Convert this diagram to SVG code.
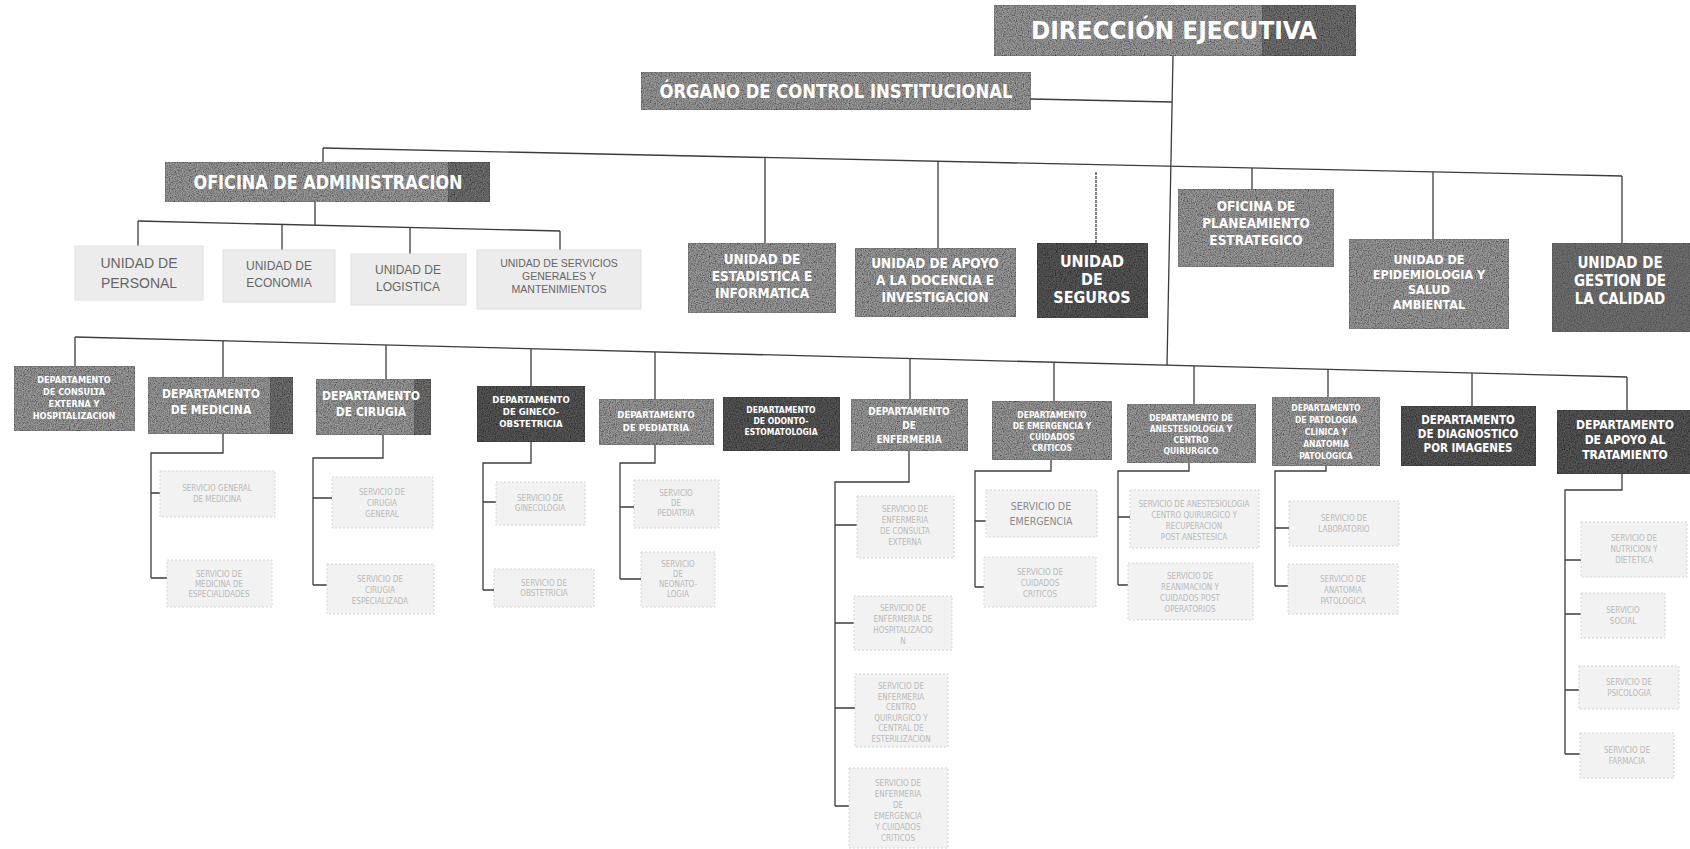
<svg xmlns="http://www.w3.org/2000/svg" width="1690" height="849" viewBox="0 0 1690 849">
<defs>
<filter id="grain" x="0" y="0" width="100%" height="100%">
<feTurbulence type="fractalNoise" baseFrequency="0.85" numOctaves="2" seed="4" result="n"/>
<feColorMatrix in="n" type="matrix" values="0 0 0 0 0  0 0 0 0 0  0 0 0 0 0  0 0 0 -1.6 1.05" result="dk"/>
<feComposite in="dk" in2="SourceGraphic" operator="in" result="d2"/>
<feMerge><feMergeNode in="SourceGraphic"/><feMergeNode in="d2"/></feMerge>
</filter>
<style>
.m{fill:#9a9a9a;stroke:#7a7a7a;stroke-width:1;filter:url(#grain)}
.d{fill:#565656;stroke:#444;stroke-width:1;filter:url(#grain)}
.l{fill:#ececec;stroke:#e0e0e0;stroke-width:1}
.f{fill:#f2f2f2;stroke:#d4d4d4;stroke-width:1;stroke-dasharray:2 2}
.tw{fill:#fff;font-family:"Liberation Sans Narrow","DejaVu Sans Condensed","Liberation Sans",sans-serif;font-weight:bold;text-anchor:middle}
.tg{fill:#666;font-family:"Liberation Sans","DejaVu Sans",sans-serif;text-anchor:middle}
.tf{fill:#b9b9b9;font-family:"Liberation Sans Narrow","DejaVu Sans Condensed","Liberation Sans",sans-serif;font-size:8px;text-anchor:middle}
.c{fill:none;stroke:#3c3c3c;stroke-width:1.3}
</style>
</defs>
<rect width="1690" height="849" fill="#fff"/>

<g id="connectors">
<path class="c" d="M1173,56 L1167,365"/>
<path class="c" d="M1031,99 L1172,102"/>
<path class="c" d="M323,148 L1622,176"/>
<path class="c" d="M323,148 V162"/>
<path class="c" d="M765,157.5 V243"/>
<path class="c" d="M938,161 V248"/>
<path class="c" d="M1096,172 V243" stroke-dasharray="3 1"/>
<path class="c" d="M1252,168 V189"/>
<path class="c" d="M1433,172 V239"/>
<path class="c" d="M1622,176 V243"/>
<path class="c" d="M315,202 V225"/>
<path class="c" d="M138,221 L560,231"/>
<path class="c" d="M138,221 V246"/>
<path class="c" d="M282,224.4 V250"/>
<path class="c" d="M410,227.4 V254"/>
<path class="c" d="M560,231 V250"/>
<path class="c" d="M75,337 L1627,377"/>
<path class="c" d="M75,337 V366"/>
<path class="c" d="M223,341 V377"/>
<path class="c" d="M386,345 V379"/>
<path class="c" d="M531,349 V386"/>
<path class="c" d="M655,352 V399"/>
<path class="c" d="M910,358.5 V399"/>
<path class="c" d="M1054,362 V401"/>
<path class="c" d="M1194,366 V404"/>
<path class="c" d="M1328,369 V397"/>
<path class="c" d="M1472,373 V406"/>
<path class="c" d="M1627,377 V410"/>
<path class="c" d="M223,434 V453 H151 V578 M151,493 H160 M151,578 H167"/>
<path class="c" d="M383,435 V458 H313 V585 M313,498 H332 M313,585 H327"/>
<path class="c" d="M531,442 V463 H483 V590 M483,502 H496 M483,590 H494"/>
<path class="c" d="M655,445 V463 H620 V579 M620,507 H634 M620,579 H641"/>
<path class="c" d="M909,451 V482 H835 V806 M835,525 H857 M835,623 H854 M835,708 H855 M835,806 H849"/>
<path class="c" d="M1051,460 V471 H975 V587 M975,521 H986 M975,587 H984"/>
<path class="c" d="M1189,463 V471 H1118 V585 M1118,517 H1130 M1118,585 H1128"/>
<path class="c" d="M1326,466 V471 H1275 V586 M1275,528 H1289 M1275,586 H1288"/>
<path class="c" d="M1622,474 V490 H1565 V754 M1565,560 H1581 M1565,614 H1581 M1565,690 H1579 M1565,754 H1580"/>
</g>

<g id="direccion-ejecutiva">
<rect class="m" x="994" y="5" width="362" height="51"/>
<rect class="d" x="1262" y="5" width="94" height="51" opacity="0.6"/>
<text class="tw" x="1174" y="39" font-size="25" textLength="286" lengthAdjust="spacingAndGlyphs">DIRECCIÓN EJECUTIVA</text>
</g>
<g id="organo-control">
<rect class="m" x="641" y="72" width="390" height="38"/>
<text class="tw" x="836" y="98" font-size="19" textLength="353" lengthAdjust="spacingAndGlyphs">ÓRGANO DE CONTROL INSTITUCIONAL</text>
</g>
<g id="oficina-administracion">
<rect class="m" x="165" y="162" width="325" height="40"/>
<rect class="d" x="448" y="162" width="42" height="40" opacity="0.6"/>
<text class="tw" x="328" y="189" font-size="19" textLength="269" lengthAdjust="spacingAndGlyphs">OFICINA DE ADMINISTRACION</text>
</g>

<g id="unidad-personal"><rect class="l" x="75" y="246" width="128" height="54"/>
<text class="tg" font-size="14" x="139"><tspan x="139" y="268">UNIDAD DE</tspan><tspan x="139" y="288">PERSONAL</tspan></text></g>
<g id="unidad-economia"><rect class="l" x="223" y="250" width="112" height="52"/>
<text class="tg" font-size="12" x="279"><tspan x="279" y="270">UNIDAD DE</tspan><tspan x="279" y="287">ECONOMIA</tspan></text></g>
<g id="unidad-logistica"><rect class="l" x="351" y="254" width="115" height="51"/>
<text class="tg" font-size="12" x="408"><tspan x="408" y="274">UNIDAD DE</tspan><tspan x="408" y="291">LOGISTICA</tspan></text></g>
<g id="unidad-servicios-generales"><rect class="l" x="477" y="250" width="164" height="59"/>
<text class="tg" font-size="10.5" x="559"><tspan x="559" y="267">UNIDAD DE SERVICIOS</tspan><tspan x="559" y="280">GENERALES Y</tspan><tspan x="559" y="293">MANTENIMIENTOS</tspan></text></g>

<g id="unidad-estadistica"><rect class="m" x="688" y="243" width="148" height="70"/>
<text class="tw" font-size="13.5"><tspan x="762" y="264">UNIDAD DE</tspan><tspan x="762" y="281">ESTADISTICA E</tspan><tspan x="762" y="298">INFORMATICA</tspan></text></g>
<g id="unidad-apoyo-docencia"><rect class="m" x="855" y="248" width="161" height="69"/>
<text class="tw" font-size="13.5"><tspan x="935" y="268">UNIDAD DE APOYO</tspan><tspan x="935" y="285">A LA DOCENCIA E</tspan><tspan x="935" y="302">INVESTIGACION</tspan></text></g>
<g id="unidad-seguros"><rect class="d" x="1037" y="243" width="111" height="75"/>
<text class="tw" font-size="16"><tspan x="1092" y="267">UNIDAD</tspan><tspan x="1092" y="285">DE</tspan><tspan x="1092" y="303">SEGUROS</tspan></text></g>
<g id="oficina-planeamiento"><rect class="m" x="1178" y="189" width="156" height="78"/>
<text class="tw" font-size="13.5"><tspan x="1256" y="211">OFICINA DE</tspan><tspan x="1256" y="228">PLANEAMIENTO</tspan><tspan x="1256" y="245">ESTRATEGICO</tspan></text></g>
<g id="unidad-epidemiologia"><rect class="m" x="1349" y="239" width="160" height="90"/>
<text class="tw" font-size="12.5"><tspan x="1429" y="264">UNIDAD DE</tspan><tspan x="1429" y="279">EPIDEMIOLOGIA Y</tspan><tspan x="1429" y="294">SALUD</tspan><tspan x="1429" y="309">AMBIENTAL</tspan></text></g>
<g id="unidad-gestion-calidad"><rect class="d" x="1552" y="243" width="145" height="89" opacity="0.85"/>
<text class="tw" font-size="15"><tspan x="1620" y="268">UNIDAD DE</tspan><tspan x="1620" y="286">GESTION DE</tspan><tspan x="1620" y="304">LA CALIDAD</tspan></text></g>

<g id="dep-consulta-externa"><rect class="m" x="14" y="366" width="121" height="65"/>
<text class="tw" font-size="9"><tspan x="74" y="383">DEPARTAMENTO</tspan><tspan x="74" y="395">DE CONSULTA</tspan><tspan x="74" y="407">EXTERNA Y</tspan><tspan x="74" y="419">HOSPITALIZACION</tspan></text></g>
<g id="dep-medicina"><rect class="m" x="148" y="377" width="145" height="57"/>
<rect class="d" x="270" y="377" width="23" height="57" opacity="0.6"/>
<text class="tw" font-size="12"><tspan x="211" y="398">DEPARTAMENTO</tspan><tspan x="211" y="414">DE MEDICINA</tspan></text></g>
<g id="dep-cirugia"><rect class="m" x="316" y="379" width="115" height="56"/>
<rect class="d" x="414" y="379" width="17" height="56" opacity="0.6"/>
<text class="tw" font-size="12"><tspan x="371" y="400">DEPARTAMENTO</tspan><tspan x="371" y="416">DE CIRUGIA</tspan></text></g>
<g id="dep-gineco-obstetricia"><rect class="d" x="477" y="386" width="108" height="56"/>
<text class="tw" font-size="9.5"><tspan x="531" y="403">DEPARTAMENTO</tspan><tspan x="531" y="415">DE GINECO-</tspan><tspan x="531" y="427">OBSTETRICIA</tspan></text></g>
<g id="dep-pediatria"><rect class="m" x="599" y="399" width="115" height="46"/>
<text class="tw" font-size="9.5"><tspan x="656" y="418">DEPARTAMENTO</tspan><tspan x="656" y="431">DE PEDIATRIA</tspan></text></g>
<g id="dep-odonto-estomatologia"><rect class="d" x="723" y="397" width="117" height="54"/>
<text class="tw" font-size="8.5"><tspan x="781" y="413">DEPARTAMENTO</tspan><tspan x="781" y="424">DE ODONTO-</tspan><tspan x="781" y="435">ESTOMATOLOGIA</tspan></text></g>
<g id="dep-enfermeria"><rect class="m" x="851" y="399" width="117" height="52"/>
<text class="tw" font-size="10"><tspan x="909" y="415">DEPARTAMENTO</tspan><tspan x="909" y="429">DE</tspan><tspan x="909" y="443">ENFERMERIA</tspan></text></g>
<g id="dep-emergencia"><rect class="m" x="992" y="401" width="120" height="59"/>
<text class="tw" font-size="8.5"><tspan x="1052" y="418">DEPARTAMENTO</tspan><tspan x="1052" y="429">DE EMERGENCIA Y</tspan><tspan x="1052" y="440">CUIDADOS</tspan><tspan x="1052" y="451">CRITICOS</tspan></text></g>
<g id="dep-anestesiologia"><rect class="m" x="1127" y="404" width="129" height="59"/>
<text class="tw" font-size="8.5"><tspan x="1191" y="421">DEPARTAMENTO DE</tspan><tspan x="1191" y="432">ANESTESIOLOGIA Y</tspan><tspan x="1191" y="443">CENTRO</tspan><tspan x="1191" y="454">QUIRURGICO</tspan></text></g>
<g id="dep-patologia"><rect class="m" x="1272" y="397" width="108" height="69"/>
<text class="tw" font-size="8.5"><tspan x="1326" y="411">DEPARTAMENTO</tspan><tspan x="1326" y="423">DE PATOLOGIA</tspan><tspan x="1326" y="435">CLINICA Y</tspan><tspan x="1326" y="447">ANATOMIA</tspan><tspan x="1326" y="459">PATOLOGICA</tspan></text></g>
<g id="dep-diagnostico-imagenes"><rect class="d" x="1401" y="406" width="135" height="60"/>
<text class="tw" font-size="11.5"><tspan x="1468" y="424">DEPARTAMENTO</tspan><tspan x="1468" y="438">DE DIAGNOSTICO</tspan><tspan x="1468" y="452">POR IMAGENES</tspan></text></g>
<g id="dep-apoyo-tratamiento"><rect class="d" x="1557" y="410" width="140" height="64"/>
<text class="tw" font-size="12"><tspan x="1625" y="429">DEPARTAMENTO</tspan><tspan x="1625" y="444">DE APOYO AL</tspan><tspan x="1625" y="459">TRATAMIENTO</tspan></text></g>

<g id="srv-medicina-general"><rect class="f" x="160" y="471" width="115" height="46"/>
<text class="tf"><tspan x="217" y="491">SERVICIO GENERAL</tspan><tspan x="217" y="502">DE MEDICINA</tspan></text></g>
<g id="srv-medicina-especialidades"><rect class="f" x="167" y="560" width="105" height="47"/>
<text class="tf"><tspan x="219" y="577">SERVICIO DE</tspan><tspan x="219" y="587">MEDICINA DE</tspan><tspan x="219" y="597">ESPECIALIDADES</tspan></text></g>
<g id="srv-cirugia-general"><rect class="f" x="332" y="477" width="101" height="51"/>
<text class="tf"><tspan x="382" y="495">SERVICIO DE</tspan><tspan x="382" y="506">CIRUGIA</tspan><tspan x="382" y="517">GENERAL</tspan></text></g>
<g id="srv-cirugia-especializada"><rect class="f" x="327" y="564" width="107" height="50"/>
<text class="tf"><tspan x="380" y="582">SERVICIO DE</tspan><tspan x="380" y="593">CIRUGIA</tspan><tspan x="380" y="604">ESPECIALIZADA</tspan></text></g>
<g id="srv-ginecologia"><rect class="f" x="496" y="482" width="89" height="43"/>
<text class="tf"><tspan x="540" y="501">SERVICIO DE</tspan><tspan x="540" y="511">GINECOLOGIA</tspan></text></g>
<g id="srv-obstetricia"><rect class="f" x="494" y="569" width="100" height="38"/>
<text class="tf"><tspan x="544" y="586">SERVICIO DE</tspan><tspan x="544" y="596">OBSTETRICIA</tspan></text></g>
<g id="srv-pediatria"><rect class="f" x="634" y="480" width="85" height="48"/>
<text class="tf"><tspan x="676" y="496">SERVICIO</tspan><tspan x="676" y="506">DE</tspan><tspan x="676" y="516">PEDIATRIA</tspan></text></g>
<g id="srv-neonatologia"><rect class="f" x="641" y="552" width="74" height="55"/>
<text class="tf"><tspan x="678" y="567">SERVICIO</tspan><tspan x="678" y="577">DE</tspan><tspan x="678" y="587">NEONATO-</tspan><tspan x="678" y="597">LOGIA</tspan></text></g>
<g id="srv-enf-consulta"><rect class="f" x="857" y="496" width="97" height="62"/>
<text class="tf"><tspan x="905" y="512">SERVICIO DE</tspan><tspan x="905" y="523">ENFERMERIA</tspan><tspan x="905" y="534">DE CONSULTA</tspan><tspan x="905" y="545">EXTERNA</tspan></text></g>
<g id="srv-enf-hospitalizacion"><rect class="f" x="854" y="596" width="98" height="54"/>
<text class="tf"><tspan x="903" y="611">SERVICIO DE</tspan><tspan x="903" y="622">ENFERMERIA DE</tspan><tspan x="903" y="633">HOSPITALIZACIO</tspan><tspan x="903" y="644">N</tspan></text></g>
<g id="srv-enf-centro-quirurgico"><rect class="f" x="855" y="674" width="93" height="73"/>
<text class="tf"><tspan x="901" y="689">SERVICIO DE</tspan><tspan x="901" y="699.5">ENFERMERIA</tspan><tspan x="901" y="710">CENTRO</tspan><tspan x="901" y="720.5">QUIRURGICO Y</tspan><tspan x="901" y="731">CENTRAL DE</tspan><tspan x="901" y="741.5">ESTERILIZACION</tspan></text></g>
<g id="srv-enf-emergencia"><rect class="f" x="849" y="768" width="99" height="80"/>
<text class="tf"><tspan x="898" y="786">SERVICIO DE</tspan><tspan x="898" y="797">ENFERMERIA</tspan><tspan x="898" y="808">DE</tspan><tspan x="898" y="819">EMERGENCIA</tspan><tspan x="898" y="830">Y CUIDADOS</tspan><tspan x="898" y="841">CRITICOS</tspan></text></g>
<g id="srv-emergencia"><rect class="f" x="986" y="490" width="111" height="47"/>
<text class="tf" style="fill:#8a8a8a;font-size:10.5px"><tspan x="1041" y="510">SERVICIO DE</tspan><tspan x="1041" y="525">EMERGENCIA</tspan></text></g>
<g id="srv-cuidados-criticos"><rect class="f" x="984" y="557" width="112" height="50"/>
<text class="tf"><tspan x="1040" y="575">SERVICIO DE</tspan><tspan x="1040" y="586">CUIDADOS</tspan><tspan x="1040" y="597">CRITICOS</tspan></text></g>
<g id="srv-anestesiologia"><rect class="f" x="1130" y="490" width="129" height="58"/>
<text class="tf"><tspan x="1194" y="507">SERVICIO DE ANESTESIOLOGIA</tspan><tspan x="1194" y="518">CENTRO QUIRURGICO Y</tspan><tspan x="1194" y="529">RECUPERACION</tspan><tspan x="1194" y="540">POST ANESTESICA</tspan></text></g>
<g id="srv-reanimacion"><rect class="f" x="1128" y="563" width="125" height="57"/>
<text class="tf"><tspan x="1190" y="579">SERVICIO DE</tspan><tspan x="1190" y="590">REANIMACION Y</tspan><tspan x="1190" y="601">CUIDADOS POST</tspan><tspan x="1190" y="612">OPERATORIOS</tspan></text></g>
<g id="srv-laboratorio"><rect class="f" x="1289" y="501" width="110" height="45"/>
<text class="tf"><tspan x="1344" y="521">SERVICIO DE</tspan><tspan x="1344" y="532">LABORATORIO</tspan></text></g>
<g id="srv-anatomia-patologica"><rect class="f" x="1288" y="564" width="110" height="50"/>
<text class="tf"><tspan x="1343" y="582">SERVICIO DE</tspan><tspan x="1343" y="593">ANATOMIA</tspan><tspan x="1343" y="604">PATOLOGICA</tspan></text></g>
<g id="srv-nutricion"><rect class="f" x="1581" y="522" width="106" height="55"/>
<text class="tf"><tspan x="1634" y="541">SERVICIO DE</tspan><tspan x="1634" y="552">NUTRICION Y</tspan><tspan x="1634" y="563">DIETETICA</tspan></text></g>
<g id="srv-social"><rect class="f" x="1581" y="593" width="84" height="45"/>
<text class="tf"><tspan x="1623" y="613">SERVICIO</tspan><tspan x="1623" y="624">SOCIAL</tspan></text></g>
<g id="srv-psicologia"><rect class="f" x="1579" y="666" width="100" height="43"/>
<text class="tf"><tspan x="1629" y="685">SERVICIO DE</tspan><tspan x="1629" y="696">PSICOLOGIA</tspan></text></g>
<g id="srv-farmacia"><rect class="f" x="1580" y="733" width="94" height="45"/>
<text class="tf"><tspan x="1627" y="753">SERVICIO DE</tspan><tspan x="1627" y="764">FARMACIA</tspan></text></g>
</svg>
